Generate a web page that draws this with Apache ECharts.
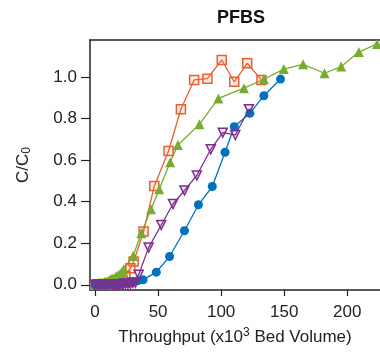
<!DOCTYPE html>
<html>
<head>
<meta charset="utf-8">
<script src="https://cdn.jsdelivr.net/npm/echarts@6/dist/echarts.min.js"></script>
<style>
  html, body { margin: 0; padding: 0; background: #fff; }
  #chart { width: 380px; height: 353px; }
</style>
</head>
<body>
<div id="chart"></div>
<script>
// Breakthrough curves for PFBS: throughput (x10^3 bed volumes) vs C/C0
const xTicks = [0, 50, 100, 150, 200];
const yTicks = [0, 0.2, 0.4, 0.6, 0.8, 1.0];

const orangeX = [0, 2, 4, 6, 8, 10, 12, 14, 16, 18, 20, 22, 24.1, 28, 30.6, 38.5, 47, 58.3, 68.1, 78.6, 89.1, 100.5, 110.4, 120.7, 132];
const orangeY = [0, 0, 0, 0, 0, 0, 0.005, 0.005, 0.01, 0.01, 0.015, 0.02, 0.043, 0.08, 0.112, 0.256, 0.476, 0.644, 0.845, 0.986, 0.992, 1.082, 0.977, 1.066, 0.986];

const greenX = [0, 1.5, 3, 4.5, 6, 7.5, 9, 10.5, 12, 13.5, 15, 16.5, 18, 19.5, 21, 22.8, 30.2, 36.7, 44.4, 50.9, 59.6, 65.7, 82.8, 97.8, 118.1, 133.9, 149.7, 165, 182, 195.2, 209.2, 223.7];
const greenY = [0.005, 0.005, 0.01, 0.01, 0.01, 0.015, 0.015, 0.02, 0.025, 0.03, 0.03, 0.04, 0.045, 0.05, 0.06, 0.075, 0.139, 0.248, 0.364, 0.46, 0.59, 0.673, 0.772, 0.897, 0.946, 0.989, 1.038, 1.061, 1.018, 1.05, 1.12, 1.159];

const blueX = [0, 2, 4, 6, 8, 10, 12, 14, 16, 18, 20, 22, 24, 26, 28, 30, 34, 38.1, 48.6, 59.1, 70.9, 82, 93, 103.1, 110.4, 122.8, 133.9, 147.1];
const blueY = [0, 0, 0, 0, 0, 0, 0.005, 0.005, 0.005, 0.005, 0.01, 0.01, 0.01, 0.01, 0.015, 0.015, 0.02, 0.024, 0.061, 0.136, 0.26, 0.385, 0.473, 0.638, 0.761, 0.825, 0.91, 0.99];

const purpleX = [0, 2, 4, 6, 8, 10, 12, 14, 16, 18, 20, 22, 24, 26, 28, 30, 32, 34.6, 42.5, 52.5, 61.8, 70.9, 80.7, 91.8, 101.3, 111.2, 122];
const purpleY = [0, 0, 0, 0, 0, 0, 0, 0, 0, 0, 0, 0, 0.005, 0.005, 0.005, 0.01, 0.01, 0.048, 0.179, 0.288, 0.389, 0.454, 0.526, 0.652, 0.732, 0.721, 0.845];

const pairs = (xs, ys) => xs.map((x, i) => [x, ys[i]]);

const FONT = '"Liberation Sans", Arial, sans-serif';
const AXIS = '#222';
const TEXT = '#222';

function lineSeries(name, xs, ys, color, symbol, opts) {
  return Object.assign({
    name: name,
    type: 'line',
    data: pairs(xs, ys),
    symbol: symbol,
    symbolSize: 8,
    showAllSymbol: true,
    animation: false,
    lineStyle: { color: color, width: 1.3 },
    itemStyle: { color: color }
  }, opts || {});
}

const chart = echarts.init(document.getElementById('chart'), null, { renderer: 'canvas' });
chart.setOption({
  backgroundColor: '#fff',
  animation: false,
  title: {
    text: 'PFBS',
    left: 236,
    top: 4,
    textAlign: 'center',
    textStyle: { fontFamily: FONT, fontWeight: 'bold', fontSize: 18, color: '#111' }
  },
  grid: { left: 90, top: 40, right: 0, bottom: 63 },
  xAxis: [{
    type: 'value',
    min: -4,
    max: 226,
    position: 'bottom',
    splitLine: { show: false },
    axisLine: { show: true, onZero: false, lineStyle: { color: AXIS, width: 1.5 } },
    axisTick: { show: true, length: 6, inside: false, customValues: xTicks, lineStyle: { color: AXIS, width: 1.2 } },
    axisLabel: { customValues: xTicks, margin: 14, fontFamily: FONT, fontSize: 17, color: TEXT },
    name: '{a|Throughput (x10}{s|3}{a| Bed Volume)}',
    nameLocation: 'middle',
    nameGap: 37,
    nameTextStyle: {
      rich: {
        a: { fontFamily: FONT, fontSize: 17, color: TEXT },
        s: { fontFamily: FONT, fontSize: 12, color: TEXT, verticalAlign: 'top', padding: [0, 0, 9, 0] }
      }
    }
  }, {
    type: 'value',
    min: -4,
    max: 226,
    position: 'top',
    splitLine: { show: false },
    axisLine: { show: true, onZero: false, lineStyle: { color: AXIS, width: 1.5 } },
    axisTick: { show: false },
    axisLabel: { show: false }
  }],
  yAxis: {
    type: 'value',
    min: -0.025,
    max: 1.178,
    splitLine: { show: false },
    axisLine: { show: true, onZero: false, lineStyle: { color: AXIS, width: 1.5 } },
    axisTick: { show: true, length: 9, inside: false, customValues: yTicks, lineStyle: { color: AXIS, width: 1.2 } },
    axisLabel: {
      customValues: yTicks,
      margin: 13,
      fontFamily: FONT, fontSize: 17, color: TEXT,
      formatter: v => v.toFixed(1)
    },
    name: '{a|C/C}{s|0}',
    nameLocation: 'middle',
    nameRotate: 90,
    nameGap: 57,
    nameTextStyle: {
      rich: {
        a: { fontFamily: FONT, fontSize: 17, color: TEXT },
        s: { fontFamily: FONT, fontSize: 12, color: TEXT, verticalAlign: 'bottom', padding: [7, 0, 0, 0] }
      }
    }
  },
  series: [
    lineSeries('orange', orangeX, orangeY, '#E8602E', 'rect', {
      symbolSize: 9,
      itemStyle: { color: 'rgba(232,96,46,0.12)', borderColor: '#E8602E', borderWidth: 1.5 }
    }),
    lineSeries('green', greenX, greenY, '#77AC30', 'triangle', { symbolSize: 10 }),
    lineSeries('blue', blueX, blueY, '#0072BD', 'circle', { symbolSize: 9 }),
    lineSeries('purple', purpleX, purpleY, '#7E2F8E', 'triangle', {
      symbolSize: 9,
      symbolRotate: 180,
      itemStyle: { color: 'rgba(126,47,142,0.10)', borderColor: '#7E2F8E', borderWidth: 1.5 }
    })
  ]
});
</script>
</body>
</html>
